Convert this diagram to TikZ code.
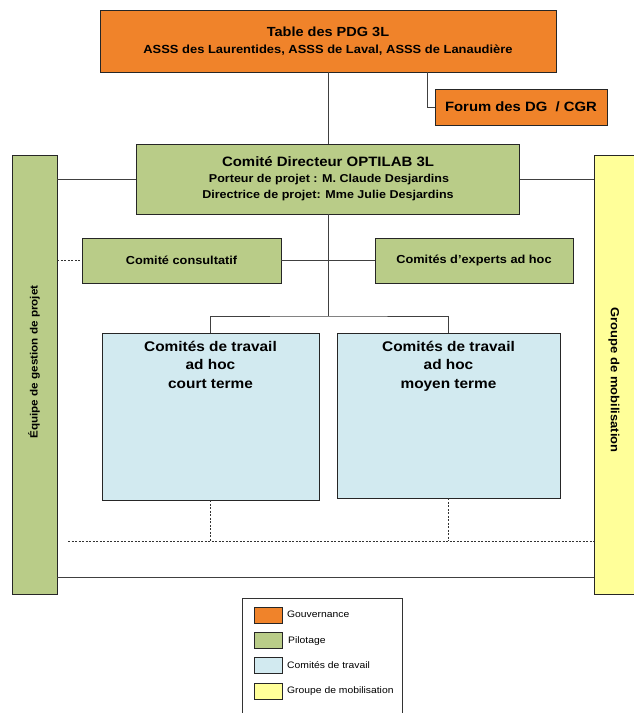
\documentclass[tikz,border=0pt]{standalone}
\usepackage{fontspec}
\setmainfont{Liberation Sans}[FakeStretch=1.1]
\begin{document}
\begin{tikzpicture}[x=1pt,y=-1pt,
  box/.style={draw=black!85,line width=0.8pt,inner sep=0pt,align=center,font=\bfseries},
  gov/.style={box,fill=orangeC},
  pil/.style={box,fill=greenC},
  trav/.style={box,fill=blueC},
  mob/.style={box,fill=yellowC},
  conn/.style={draw=black!75,line width=0.8pt},
  dconn/.style={draw=black!80,line width=0.6pt,dash pattern=on 2pt off 1.5pt},
  swatch/.style={draw=black!85,line width=0.8pt,minimum width=28pt,minimum height=16pt,inner sep=0pt},
  leglbl/.style={anchor=west,font=\fontsize{9.4}{10}\selectfont,inner sep=0pt}]
\definecolor{orangeC}{RGB}{240,131,42}
\definecolor{greenC}{RGB}{185,204,136}
\definecolor{blueC}{RGB}{210,234,240}
\definecolor{yellowC}{RGB}{255,255,153}
\useasboundingbox (0,0) rectangle (633,713);
\fill[white] (0,0) rectangle (633,713);

% top
\node[gov,minimum width=456pt,minimum height=62pt] (top) at (328,41) {};
\node[font=\bfseries\fontsize{13.2}{16}\selectfont,inner sep=0pt] (toptitle) at (328,32) {Table des PDG 3L};
\node[font=\bfseries\fontsize{11.75}{13}\selectfont,inner sep=0pt] (topsub) at (328,50) {ASSS des Laurentides, ASSS de Laval, ASSS de Lanaudière};

\node[gov,minimum width=172pt,minimum height=36pt,font=\bfseries\fontsize{13.5}{16}\selectfont] (forum) at (521,107) {Forum des DG~~/ CGR};

% comite directeur
\node[pil,minimum width=383pt,minimum height=70pt] (cd) at (328,179) {};
\node[font=\bfseries\fontsize{13.6}{16}\selectfont,inner sep=0pt] (cdtitle) at (328,162) {Comité Directeur OPTILAB 3L};
\node[font=\bfseries\fontsize{11.4}{12}\selectfont,inner sep=0pt] (cdl1) at (329,180) {Porteur de projet : M. Claude Desjardins};
\node[font=\bfseries\fontsize{11.4}{12}\selectfont,inner sep=0pt] (cdl2) at (328,196) {Directrice de projet: Mme Julie Desjardins};

% side bars
\node[pil,minimum width=45pt,minimum height=439pt] (lbar) at (34.5,374.5) {};
\node[font=\bfseries\fontsize{10.6}{12}\selectfont,rotate=90,inner sep=0pt] (lbartxt) at (34,362) {Équipe de gestion de projet};
\node[mob,minimum width=46pt,minimum height=439pt] (rbar) at (617,374.5) {};
\node[font=\bfseries\fontsize{11.8}{12}\selectfont,rotate=-90,inner sep=0pt] (rbartxt) at (614,380) {Groupe de mobilisation};

% consultatif / experts
\node[pil,minimum width=199pt,minimum height=45pt,font=\bfseries\fontsize{11.6}{12}\selectfont] (consult) at (181.5,260.5) {Comité consultatif};
\node[pil,minimum width=198pt,minimum height=45pt,font=\bfseries\fontsize{11.6}{12}\selectfont] (experts) at (474,260.5) {Comités d’experts ad hoc};

% comites de travail
\node[trav,minimum width=217pt,minimum height=167pt] (court) at (210.5,416.5) {};
\node[anchor=north,align=center,font=\bfseries\fontsize{14}{18.3}\selectfont,inner sep=0pt] (courttxt) at (210.5,341) {Comités de travail\\ad hoc\\court terme};
\node[trav,minimum width=223pt,minimum height=165pt] (moyen) at (448.5,415.5) {};
\node[anchor=north,align=center,font=\bfseries\fontsize{14}{18.3}\selectfont,inner sep=0pt] (moyentxt) at (448.5,341) {Comités de travail\\ad hoc\\moyen terme};

% connectors
\coordinate (j) at (328,316);
\coordinate (dl) at (68,541);
\draw[conn] (top.south) -- (cd.north);
\draw[conn] ([xshift=99pt]top.south) |- (forum.west);
\draw[conn] (lbar.east |- cd.west) -- (cd.west);
\draw[conn] (cd.east) -- (rbar.west |- cd.east);
\draw[conn] (consult.east) -- (experts.west);
\draw[dconn] (lbar.east |- consult.west) -- (consult.west);
\draw[conn] (cd.south) -- (j);
\draw[conn] (court.north) |- (j) -| (moyen.north);
\draw[dconn] (court.south) -- (court.south |- dl);
\draw[dconn] (moyen.south) -- (moyen.south |- dl);
\draw[dconn] (dl) -- (rbar.west |- dl);
\coordinate (sl) at (57,577);
\draw[conn] (lbar.east |- sl) -- (rbar.west |- sl);

% legend
\draw[draw=black!80,line width=0.8pt] (242,720) -- (242,598) -- (402,598) -- (402,720);
\node[swatch,fill=orangeC] (s1) at (268,615) {};
\node[leglbl] (l1) at (287,614) {Gouvernance};
\node[swatch,fill=greenC] (s2) at (268,640) {};
\node[leglbl] (l2) at (288,641) {Pilotage};
\node[swatch,fill=blueC] (s3) at (268,665.5) {};
\node[leglbl] (l3) at (287,665) {Comités de travail};
\node[swatch,fill=yellowC] (s4) at (268,691) {};
\node[leglbl] (l4) at (287,691) {Groupe de mobilisation};
\end{tikzpicture}
\end{document}
